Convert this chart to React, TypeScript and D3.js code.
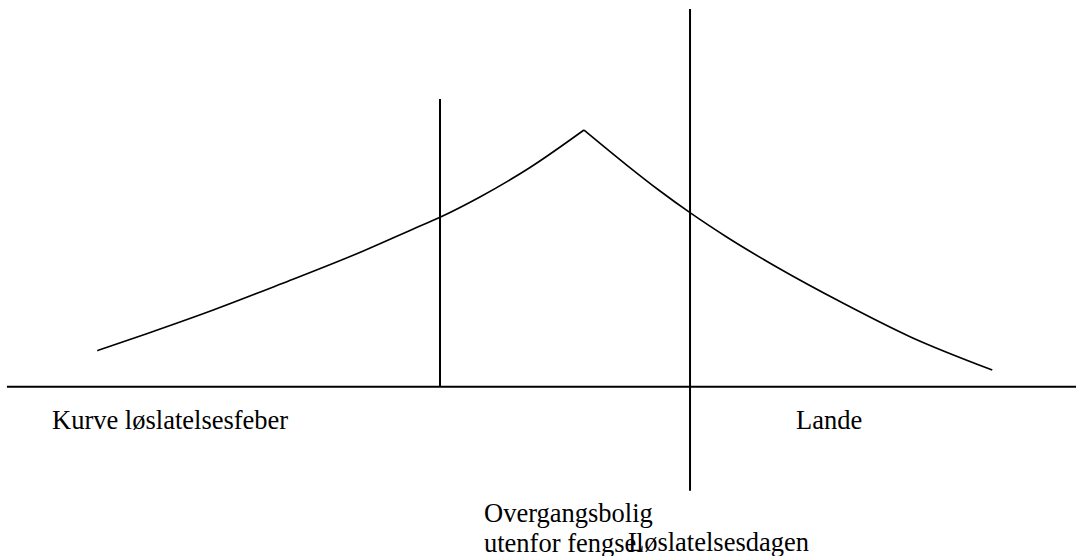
import React from "react";
import * as d3 from "d3";

// Curve values (abstract units: x 0–100 across the page, y 0–100 height above baseline)
const riseX = [8.36, 12.99, 19.22, 25.47, 33.27, 37.95, 40.45, 44.19, 48.88, 53.93];
const riseY = [9.31, 13.7, 19.83, 26.48, 35.09, 40.78, 43.81, 49.06, 56.69, 66.38];
const fallX = [53.93, 57.93, 61.05, 63.86, 67.29, 71.97, 78.21, 84.46, 92.16];
const fallY = [66.38, 57.33, 50.61, 45.0, 38.71, 30.95, 21.57, 12.93, 4.32];

// Vertical markers: x position, bottom value, top value
const markerX = [40.45, 63.86];
const markerBottom = [0, -26.9];
const markerTop = [74.4, 97.7];

const baselineExtent = [-0.1, 100];

const labels = ["Kurve løslatelsesfeber", "Lande", "Overgangsbolig", "utenfor fengsel", "Løslatelsesdagen"];

const W = 1076;
const H = 556;

export default function App() {
  const x = d3.scaleLinear().domain([0, 100]).range([8, 1076]);
  const y = d3.scaleLinear().domain([0, 100]).range([386.7, 0]);

  const line = d3
    .line<[number, number]>()
    .x((d) => x(d[0]))
    .y((d) => y(d[1]))
    .curve(d3.curveMonotoneX);

  const rise = riseX.map((v, i) => [v, riseY[i]] as [number, number]);
  const fall = fallX.map((v, i) => [v, fallY[i]] as [number, number]);

  const fam = "Liberation Serif";
  const fs = 26.5;

  return (
    <svg
      width={W}
      height={H}
      style={{ position: "absolute", left: 0, top: 0, background: "#fff" }}
    >
      <line
        x1={x(baselineExtent[0])}
        x2={x(baselineExtent[1])}
        y1={y(0)}
        y2={y(0)}
        stroke="#000"
        strokeWidth={2}
      />
      {markerX.map((mx, i) => (
        <line
          key={i}
          x1={x(mx)}
          x2={x(mx)}
          y1={y(markerBottom[i])}
          y2={y(markerTop[i])}
          stroke="#000"
          strokeWidth={2}
        />
      ))}
      <path d={line(rise) || ""} fill="none" stroke="#000" strokeWidth={1.6} />
      <path d={line(fall) || ""} fill="none" stroke="#000" strokeWidth={1.6} />
      <g fontFamily={fam} fontSize={fs} fill="#000">
        <text x={52} y={429}>{labels[0]}</text>
        <text x={796} y={429}>{labels[1]}</text>
        <text x={484} y={522}>{labels[2]}</text>
        <text x={484} y={551.5}>{labels[3]}</text>
        <text x={628} y={550.5}>{labels[4]}</text>
      </g>
    </svg>
  );
}
